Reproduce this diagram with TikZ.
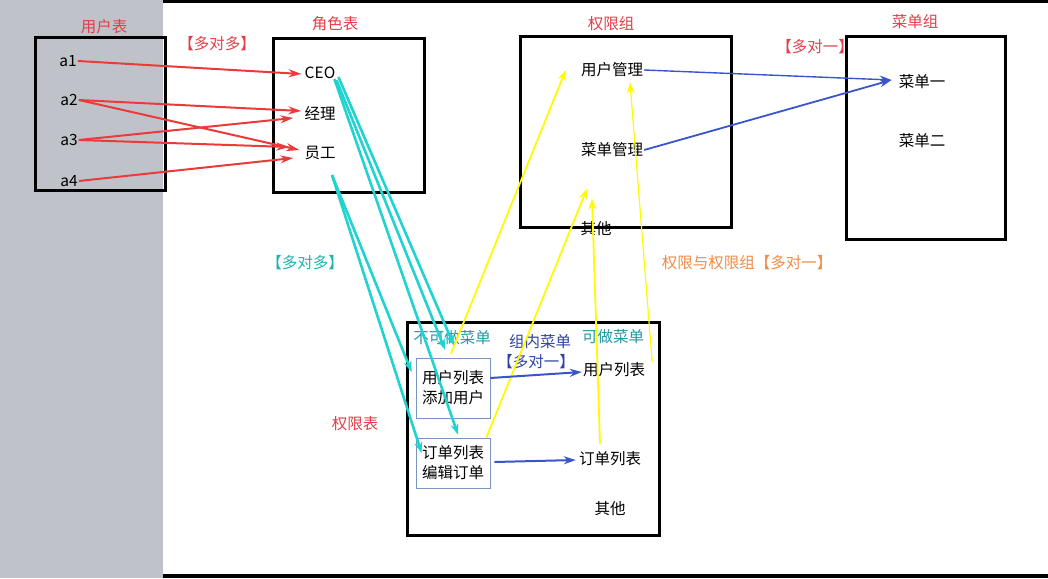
\documentclass[tikz,border=0pt]{standalone}
\usepackage{fontspec}
\newfontfamily\cjk{Noto Sans CJK SC}
\usetikzlibrary{arrows.meta, calc}
\definecolor{sidegray}{RGB}{192,194,201}
\definecolor{tred}{RGB}{226,62,72}
\definecolor{ared}{RGB}{236,58,58}
\definecolor{acyan}{RGB}{32,210,208}
\definecolor{ayellow}{RGB}{255,250,0}
\definecolor{ablue}{RGB}{58,84,204}
\definecolor{tteal}{RGB}{36,150,164}
\definecolor{torange}{RGB}{238,140,72}
\definecolor{boxline}{RGB}{120,150,190}

\begin{document}
\begin{tikzpicture}[
		x=1pt, y=-1pt,
		every node/.style={font=\cjk\fontsize{15.5}{20}\selectfont, inner sep=1pt},
		frame/.style={draw=black, line width=3pt},
		sub/.style={draw=boxline, line width=0.8pt, align=left, minimum width=74pt, inner sep=2pt},
		ttl/.style={text=tred},
		redarr/.style={-{Stealth[length=13pt,width=8pt]}, ared, line width=2pt},
		cyanarr/.style={-{Stealth[length=11pt,width=8pt]}, acyan, line width=2.6pt},
		yelarr/.style={-{Stealth[length=11pt,width=8pt]}, ayellow, line width=1.8pt},
		bluearr/.style={-{Stealth[length=12pt,width=8pt]}, ablue, line width=2pt}
		]
		\useasboundingbox (0,0) rectangle (1048,578);
		\fill[sidegray] (0,0) rectangle (163,578);
		\fill[black] (163,0) rectangle (1048,3);
		\fill[black] (163,574) rectangle (1048,578);
		
		% tables
		\draw[frame] (35,38) rectangle (165,190);
		\draw[frame] (273,39) rectangle (424,192);
		\draw[frame] (520,37) rectangle (731,227);
		\draw[frame] (846,37) rectangle (1005,239);
		\draw[frame] (407,322) rectangle (659,535);
		
		\node[ttl] (tuser) at (104,27) {用户表};
		\node[ttl] (trole) at (335,24) {角色表};
		\node[ttl] (tgroup) at (611,24) {权限组};
		\node[ttl] (tmenu) at (915,22) {菜单组};
		\node[ttl] (tperm) at (355,424) {权限表};
		\node[ttl] (mm1) at (217,44) {【多对多】};
		\node[ttl] (mo1) at (815,47) {【多对一】};
		\node[text=acyan!85!black] (mm2) at (305,263) {【多对多】};
		\node[text=torange] (mo2) at (747,263) {权限与权限组【多对一】};
		
		% users and roles
		\node (a1) at (68,61) {a1};
		\node (a2) at (69,100) {a2};
		\node (a3) at (69,140) {a3};
		\node (a4) at (69,181) {a4};
		\node (ceo) at (320,73) {CEO};
		\node (jl) at (320,113) {经理};
		\node (yg) at (320,153) {员工};
		
		% groups and menus
		\node (yhgl) at (612,70) {用户管理};
		\node (cdgl) at (612,150) {菜单管理};
		\node (qt1) at (596,229) {其他};
		\node (cd1) at (922,82) {菜单一};
		\node (cd2) at (922,141) {菜单二};
		
		% permissions
		\node[text=tteal] (bkz) at (452,338) {不可做菜单};
		\node[text=ablue!80!black] (znz) at (540,342) {组内菜单};
		\node[text=ablue!80!black] (mo3) at (536,362) {【多对一】};
		\node[text=tteal] (kz) at (613,337) {可做菜单};
		\node[sub, minimum height=60pt] (ulbox) at (453,388) {用户列表\\添加用户};
		\node[sub, minimum height=50pt] (olbox) at (453,463) {订单列表\\编辑订单};
		\node (yhlb) at (614,370) {用户列表};
		\node (ddlb) at (610,459) {订单列表};
		\node (qt2) at (610,509) {其他};
		
		\draw[redarr] (a1.east) -- ($(ceo.west)+(-2,1)$);
		\draw[redarr] (a2.east) -- ($(jl.west)+(-2,-2)$);
		\draw[redarr] (a2.east) -- ($(yg.west)+(-4,-3)$);
		\draw[redarr] (a3.east) -- ($(jl.west)+(-10,5)$);
		\draw[redarr] (a3.east) -- ($(yg.west)+(-14,-6)$);
		\draw[redarr] (a4.east) -- ($(yg.west)+(-10,5)$);
		
		\draw[cyanarr] (ceo.south east) -- ($(ulbox.north)+(-8,-8)$);
		\draw[cyanarr] ($(ceo.south east)+(2,-3)$) -- ($(ulbox.north)+(1,-12)$);
		\draw[cyanarr] ($(ceo.south east)+(-2,-1)$) -- ($(olbox.north)+(5,-3)$);
		\draw[cyanarr] ($(yg.south)+(12,14)$) -- ($(ulbox.west)+(-4,-16)$);
		\draw[cyanarr] ($(yg.south)+(12,14)$) -- ($(olbox.west)+(6,-10)$);
		
		\draw[yelarr] ($(ulbox.north)+(-2,-4)$) -- ($(yhgl.west)+(-14,0)$);
		\draw[yelarr] ($(olbox.north east)+(-4,0)$) -- ($(qt1.north)+(-9,-32)$);
		\draw[yelarr] ($(ddlb.north)+(-10,-7)$) -- ($(qt1.north)+(-4,-22)$);
		\draw[yelarr, line width=1.2pt] ($(yhlb.east)+(6,-8)$) -- ($(yhgl.south)+(18,4)$);
		
		\draw[bluearr, line width=1.4pt] (yhgl.east) -- ($(cd1.west)+(-6,-2)$);
		\draw[bluearr, line width=1.8pt] (cdgl.east) -- ($(cd1.west)+(-6,-2)$);
		\draw[bluearr] ($(ulbox.east)+(0,-10)$) -- ($(yhlb.west)+(0,2)$);
		\draw[bluearr] ($(olbox.east)+(4,-1)$) -- ($(ddlb.west)+(-2,1)$);
	\end{tikzpicture}
\end{document}
